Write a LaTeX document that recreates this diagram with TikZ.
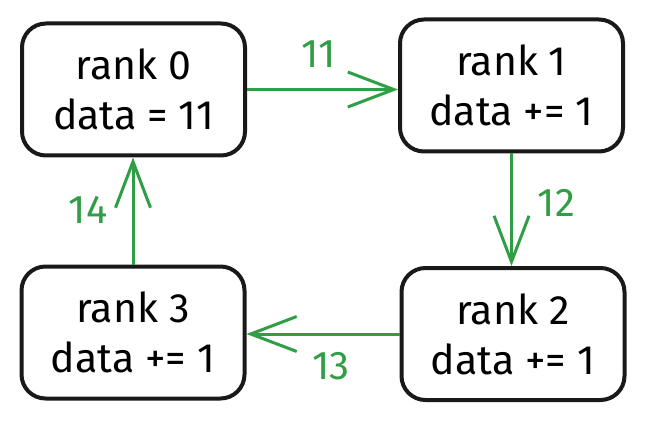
\documentclass[tikz,border=0pt]{standalone}
\usepackage{fontspec}
\setmainfont{Fira Sans}
\usetikzlibrary{arrows.meta}
\definecolor{msggreen}{HTML}{2F9E44}
\begin{document}
\begin{tikzpicture}[x=1pt,y=-1pt,
        rank/.style={draw=black!90, line width=4pt, rounded corners=24pt, minimum width=223pt, minimum height=132pt, align=center, font=\fontsize{41}{50}\selectfont},
        msg/.style={draw=msggreen, line width=3pt, -{Straight Barb[length=46pt,width=35pt,line width=3pt]}},
        lbl/.style={text=msggreen, font=\fontsize{40}{44}\selectfont}]
        \useasboundingbox (0,0) rectangle (645,422);
        \node[rank] (r0) at (133.5,89.5) {rank 0\\data = 11};
        \node[rank] (r1) at (511.5,85.5) {rank 1\\data += 1};
        \node[rank] (r2) at (513,334) {rank 2\\data += 1};
        \node[rank] (r3) at (133,332.5) {rank 3\\data += 1};
        \draw[msg] (r0.east) -- (r0.east -| r1.west) node[lbl, midway, xshift=-4pt, yshift=35pt] (m01) {11};
        \draw[msg] (r1.south) -- (r1.south |- r2.north) node[lbl, midway, xshift=45pt, yshift=7pt] (m12) {12};
        \draw[msg] (r2.west) -- (r2.west -| r3.east) node[lbl, midway, xshift=8pt, yshift=-32pt] (m23) {13};
        \draw[msg] (r3.north) -- (r3.north |- r0.south) node[lbl, midway, xshift=-45pt, yshift=1pt] (m30) {14};
    \end{tikzpicture}
\end{document}
